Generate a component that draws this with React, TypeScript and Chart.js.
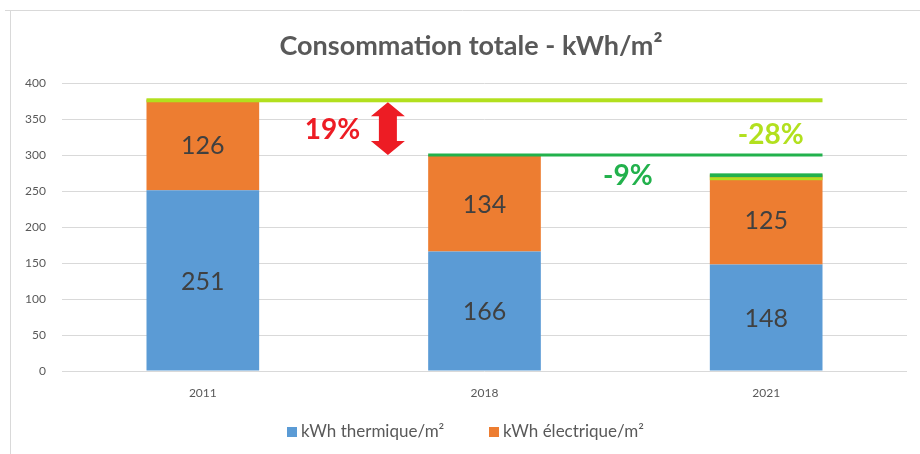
import React, { useEffect, useRef } from "react";
import { Chart, registerables } from "chart.js";

Chart.register(...registerables);

const categories = ["2011", "2018", "2021"];
const thermique = [251, 166, 148];
const electrique = [126, 134, 125];
const yTicks = [0, 50, 100, 150, 200, 250, 300, 350, 400];
const titleText = "Consommation totale - kWh/m²";
const seriesNames = ["kWh thermique/m²", "kWh électrique/m²"];
const refLevel2011 = 376; // light green reference line
const refLevel2018 = 300; // dark green reference line
const pct19 = "19%";
const pct28 = "-28%";
const pct9 = "-9%";

const BLUE = "#5b9bd5";
const ORANGE = "#ed7d31";
const LIGHT_GREEN = "#b2e01e";
const DARK_GREEN = "#22b14c";
const RED = "#ed1c24";
const FONT = "Lato, 'Open Sans', sans-serif";

const overlay = {
  id: "overlay",
  beforeDraw(chart: any) {
    const ctx = chart.ctx;
    ctx.save();
    ctx.strokeStyle = "#d9d9d9";
    ctx.lineWidth = 1;
    ctx.beginPath();
    ctx.moveTo(5, 10.5);
    ctx.lineTo(920, 10.5);
    ctx.moveTo(10.5, 10);
    ctx.lineTo(10.5, 454);
    ctx.stroke();
    ctx.restore();
  },
  afterDatasetsDraw(chart: any) {
    const ctx = chart.ctx;
    const x = chart.scales.x;
    const y = chart.scales.y;
    const meta0 = chart.getDatasetMeta(0);
    const meta1 = chart.getDatasetMeta(1);
    ctx.save();

    // data labels
    ctx.fillStyle = "#404040";
    ctx.font = `25px ${FONT}`;
    ctx.textAlign = "center";
    ctx.textBaseline = "middle";
    for (let i = 0; i < categories.length; i++) {
      const cx = meta0.data[i].x;
      ctx.fillText(String(thermique[i]), cx, y.getPixelForValue(thermique[i] / 2) + 1);
      ctx.fillText(
        String(electrique[i]),
        cx,
        y.getPixelForValue(thermique[i] + electrique[i] / 2) + 1.5
      );
    }

    const bar0 = meta1.data[0];
    const bar1 = meta1.data[1];
    const bar2 = meta1.data[2];
    const left0 = bar0.x - bar0.width / 2;
    const left1 = bar1.x - bar1.width / 2;
    const right2 = bar2.x + bar2.width / 2;

    // light green line
    ctx.fillStyle = LIGHT_GREEN;
    const yl = y.getPixelForValue(refLevel2011);
    ctx.fillRect(left0, yl - 2, right2 - left0, 4);
    // dark green line
    ctx.fillStyle = DARK_GREEN;
    const yd = y.getPixelForValue(refLevel2018);
    ctx.fillRect(left1, yd - 1.5, right2 - left1, 3);

    // 2021 stripes
    const top2 = thermique[2] + electrique[2];
    const left2 = bar2.x - bar2.width / 2;
    const s0 = y.getPixelForValue(top2 + 1.5);
    const s1 = y.getPixelForValue(top2 - 4);
    const s2 = y.getPixelForValue(top2 - 8);
    ctx.fillStyle = DARK_GREEN;
    ctx.fillRect(left2, s0, bar2.width, s1 - s0);
    ctx.fillStyle = LIGHT_GREEN;
    ctx.fillRect(left2, s1, bar2.width, s2 - s1);

    // percentages
    ctx.font = `bold 28px ${FONT}`;
    ctx.fillStyle = RED;
    ctx.fillText(pct19, x.getPixelForValue(0.46), y.getPixelForValue(335));
    ctx.fillStyle = LIGHT_GREEN;
    ctx.fillText(pct28, x.getPixelForValue(2.016), y.getPixelForValue(328));
    ctx.fillStyle = DARK_GREEN;
    ctx.fillText(pct9, x.getPixelForValue(1.509), y.getPixelForValue(271));

    // red double arrow
    const ax = x.getPixelForValue(0.657);
    const ay0 = y.getPixelForValue(refLevel2011) + 2;
    const ay1 = y.getPixelForValue(refLevel2018);
    const headW = 17;
    const shaftW = 9;
    const headH = 14;
    ctx.fillStyle = RED;
    ctx.beginPath();
    ctx.moveTo(ax, ay0);
    ctx.lineTo(ax + headW, ay0 + headH);
    ctx.lineTo(ax + shaftW, ay0 + headH);
    ctx.lineTo(ax + shaftW, ay1 - headH);
    ctx.lineTo(ax + headW, ay1 - headH);
    ctx.lineTo(ax, ay1);
    ctx.lineTo(ax - headW, ay1 - headH);
    ctx.lineTo(ax - shaftW, ay1 - headH);
    ctx.lineTo(ax - shaftW, ay0 + headH);
    ctx.lineTo(ax - headW, ay0 + headH);
    ctx.closePath();
    ctx.fill();

    // title
    ctx.fillStyle = "#595959";
    ctx.font = `bold 27px ${FONT}`;
    ctx.fillText(titleText, 471, 46);

    // legend
    ctx.font = `17px ${FONT}`;
    ctx.textAlign = "left";
    const ly = 432;
    const colors = [BLUE, ORANGE];
    const lx = [287, 489];
    for (let i = 0; i < 2; i++) {
      ctx.fillStyle = colors[i];
      ctx.fillRect(lx[i], ly - 5, 10, 10);
      ctx.fillStyle = "#595959";
      ctx.fillText(seriesNames[i], lx[i] + 14, ly);
    }
    ctx.restore();
  },
};

export default function App() {
  const ref = useRef<HTMLCanvasElement | null>(null);
  useEffect(() => {
    if (!ref.current) return;
    const chart = new Chart(ref.current, {
      type: "bar",
      data: {
        labels: categories,
        datasets: [
          { label: seriesNames[0], data: thermique, backgroundColor: BLUE },
          { label: seriesNames[1], data: electrique, backgroundColor: ORANGE },
        ],
      },
      options: {
        animation: false,
        responsive: true,
        maintainAspectRatio: false,
        layout: { padding: { top: 83, right: 13, bottom: 55, left: 0 } },
        datasets: { bar: { barPercentage: 0.4, categoryPercentage: 1 } },
        plugins: { legend: { display: false }, title: { display: false }, tooltip: { enabled: false } },
        scales: {
          x: {
            stacked: true,
            grid: { display: false, drawTicks: false },
            border: { display: false },
            ticks: { color: "#595959", font: { family: FONT, size: 12 }, padding: 15 },
            afterFit: (s: any) => {
              s.height = 28;
            },
          },
          y: {
            stacked: true,
            min: 0,
            max: 400,
            afterBuildTicks: (s: any) => {
              s.ticks = yTicks.map((v) => ({ value: v }));
            },
            grid: { color: "#d9d9d9", drawTicks: false },
            border: { display: false },
            ticks: { color: "#595959", font: { family: FONT, size: 12 }, padding: 16 },
            afterFit: (s: any) => {
              s.width = 62;
            },
          },
        },
      },
      plugins: [overlay],
    });
    return () => chart.destroy();
  }, []);
  return (
    <div style={{ position: "absolute", left: 0, top: 0, width: 920, height: 454, background: "#fff" }}>
      <canvas ref={ref} />
    </div>
  );
}
